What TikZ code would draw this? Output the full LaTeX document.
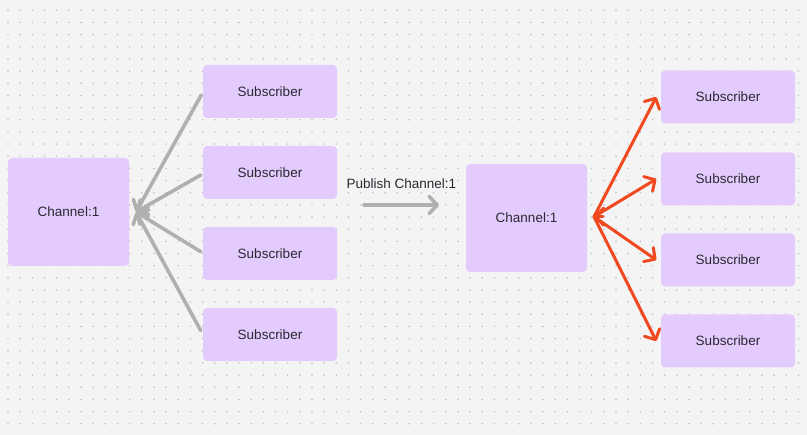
\documentclass[tikz,border=0pt]{standalone}
\usepackage{fontspec}
\setmainfont{Liberation Sans}
\usetikzlibrary{arrows.meta,calc}
\definecolor{bg}{HTML}{F4F4F4}
\definecolor{dotc}{HTML}{BDBDBD}
\definecolor{boxc}{HTML}{E3CCFD}
\definecolor{txtc}{HTML}{2B2833}
\definecolor{grayln}{HTML}{B0B0B0}
\definecolor{redln}{HTML}{F0481F}
\tikzset{
  box/.style={fill=boxc, rounded corners=4pt, text=txtc, font=\fontsize{13.5}{15}\selectfont, inner sep=0pt},
  chan/.style={box, minimum width=121pt, minimum height=108pt},
  sub/.style={box, minimum width=134pt, minimum height=53pt},
  grayarrow/.style={draw=grayln, line width=3.6pt, line cap=round, -{Straight Barb[length=8pt,width=17pt,line cap=round,line join=round]}},
  redarrow/.style={draw=redln, line width=3pt, line cap=round, -{Straight Barb[length=8pt,width=17pt,line cap=round,line join=round]}},
}
\begin{document}
\begin{tikzpicture}[x=1pt,y=-1pt]
\fill[bg] (0,0) rectangle (807,435);
\useasboundingbox (0,0) rectangle (807,435);
\foreach \i in {0,...,66}{
  \foreach \j in {0,...,35}{
    \fill[dotc] ({8+12.16*\i},{10.3+12.16*\j}) circle (0.85);
  }
}
% left group
\node[chan] (chL) at (68.5,212) {Channel:1};
\node[sub] (s1) at (270,91.5) {Subscriber};
\node[sub] (s2) at (270,172.5) {Subscriber};
\node[sub] (s3) at (270,253.5) {Subscriber};
\node[sub] (s4) at (270,334.5) {Subscriber};
\coordinate (tipL) at (136,212);
\draw[grayarrow] ($(s1.west)+(-1.5,3.5)$) -- (tipL);
\draw[grayarrow] ($(s2.west)+(-2,2.5)$) -- (tipL);
\draw[grayarrow] ($(s3.west)+(-2,-1.8)$) -- (tipL);
\draw[grayarrow] ($(s4.west)+(-2,-3.8)$) -- (tipL);
% publish
\coordinate (pubA) at (364,205);
\coordinate (pubB) at (439,205);
\draw[grayarrow] (pubA) -- (pubB) node[midway, above=11pt, text=txtc, font=\fontsize{13.5}{15}\selectfont] (publbl) {Publish Channel:1};
% right group
\node[chan] (chR) at (526.5,218) {Channel:1};
\node[sub] (r1) at (728,97) {Subscriber};
\node[sub] (r2) at (728,179) {Subscriber};
\node[sub] (r3) at (728,260) {Subscriber};
\node[sub] (r4) at (728,341) {Subscriber};
\coordinate (tipR) at (594,216.7);
\coordinate (tipRb) at (603,216.7);
\draw[redarrow] (tipR) -- ($(r1.west)+(-4.5,0)$);
\draw[redarrow] (tipR) -- ($(r2.west)+(-4.5,0)$);
\draw[redarrow] (tipR) -- ($(r3.west)+(-4.5,0)$);
\draw[redarrow] (tipR) -- ($(r4.west)+(-4.5,0)$);
\draw[redarrow] (tipRb) -- (tipR);
\end{tikzpicture}
\end{document}
